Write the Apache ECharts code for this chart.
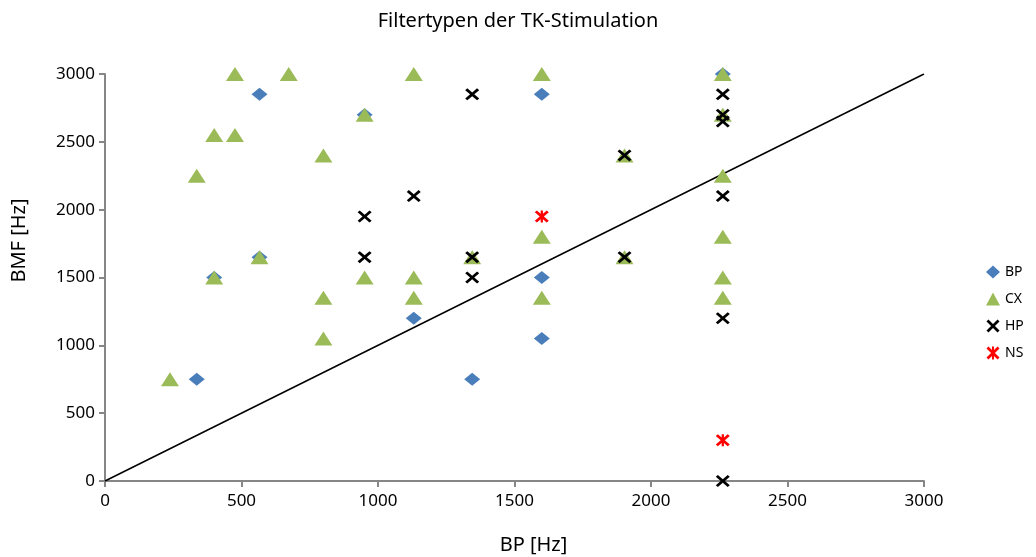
<!DOCTYPE html>
<html>
<head>
<meta charset="utf-8">
<script src="https://cdn.jsdelivr.net/npm/echarts@6/dist/echarts.min.js"></script>
<style>
html,body{margin:0;padding:0;background:#fff;}
#chart{width:1036px;height:557px;}
</style>
</head>
<body>
<div id="chart"></div>
<script>
// Data (BP [Hz], BMF [Hz])
const bpData = [[336,750],[400,1500],[566,1650],[566,2850],[951,2700],[1131,1200],[1345,750],[1600,1050],[1600,1500],[1600,2850],[2263,3000]];
const cxData = [[238,750],[336,2250],[400,1500],[400,2550],[476,2550],[476,3000],[566,1650],[673,3000],[800,1050],[800,1350],[800,2400],[951,1500],[951,2700],[1131,1350],[1131,1500],[1131,3000],[1345,1650],[1600,1350],[1600,1800],[1600,3000],[1903,1650],[1903,2400],[2263,1350],[2263,1500],[2263,1800],[2263,2250],[2263,2700],[2263,3000]];
const hpData = [[951,1650],[951,1950],[1131,2100],[1345,1500],[1345,1650],[1345,2850],[1903,1650],[1903,2400],[2263,0],[2263,1200],[2263,2100],[2263,2650],[2263,2700],[2263,2850]];
const nsData = [[1600,1950],[2263,300]];
const diagonal = [[0,0],[3000,3000]];
const seriesNames = ['BP','CX','HP','NS'];
const axisTicks = {min:0, max:3000, interval:500};

const xPath = 'path://M0,1.5L1.5,0L5,3.5L8.5,0L10,1.5L6.5,5L10,8.5L8.5,10L5,6.5L1.5,10L0,8.5L3.5,5Z';
const starPath = 'path://M0,1.5L1.5,0L5,3.5L8.5,0L10,1.5L6.5,5L10,8.5L8.5,10L5,6.5L1.5,10L0,8.5L3.5,5Z M4.2,0L5.8,0L5.8,10L4.2,10Z';
const font = 'Noto Sans';
const plain = v => String(v);

const chart = echarts.init(document.getElementById('chart'));
chart.setOption({
  backgroundColor:'#ffffff',
  animation:false,
  textStyle:{fontFamily:font},
  title:{text:'Filtertypen der TK-Stimulation', left:'center', top:6,
    textStyle:{fontFamily:font, fontSize:20, fontWeight:'normal', color:'#000'}},
  legend:{orient:'vertical', left:981, top:260, itemGap:13, itemWidth:14, itemHeight:13,
    data:seriesNames, textStyle:{fontFamily:font, fontSize:14, color:'#000'}},
  grid:{left:105, right:112, top:74, bottom:76, outerBoundsMode:'none', containLabel:false},
  xAxis:{type:'value', min:axisTicks.min, max:axisTicks.max, interval:axisTicks.interval,
    name:'BP [Hz]', nameLocation:'middle', nameGap:54,
    nameTextStyle:{fontFamily:font, fontSize:20, color:'#000', padding:[0,0,0,38]},
    axisLine:{show:true, lineStyle:{color:'#868686', width:2}},
    axisTick:{show:true, inside:false, length:6, lineStyle:{color:'#868686', width:2}},
    axisLabel:{fontFamily:font, fontSize:17, color:'#000', margin:12, formatter:plain},
    splitLine:{show:false}},
  yAxis:{type:'value', min:axisTicks.min, max:axisTicks.max, interval:axisTicks.interval,
    name:'BMF [Hz]', nameLocation:'middle', nameGap:76, nameRotate:90,
    nameTextStyle:{fontFamily:font, fontSize:20, color:'#000', padding:[0,0,0,74]},
    axisLine:{show:true, lineStyle:{color:'#868686', width:2}},
    axisTick:{show:true, inside:false, length:6, lineStyle:{color:'#868686', width:2}},
    axisLabel:{fontFamily:font, fontSize:17, color:'#000', margin:10, formatter:plain},
    splitLine:{show:false}},
  series:[
    {name:'diag', type:'line', data:diagonal, showSymbol:false, symbol:'none',
      lineStyle:{color:'#000', width:1.5}, z:1, silent:true},
    {name:'BP', type:'scatter', data:bpData, symbol:'diamond', symbolSize:[16,13],
      itemStyle:{color:'#4A7EBB', opacity:1}, z:2},
    {name:'CX', type:'scatter', data:cxData, symbol:'triangle', symbolSize:[18,14],
      itemStyle:{color:'#9BBB59', opacity:1}, z:3},
    {name:'HP', type:'scatter', data:hpData, symbol:xPath, symbolSize:[14,12],
      itemStyle:{color:'#000000', opacity:1}, z:4},
    {name:'NS', type:'scatter', data:nsData, symbol:starPath, symbolSize:[14,12],
      itemStyle:{color:'#FF0000', opacity:1}, z:5}
  ]
});
</script>
</body>
</html>
